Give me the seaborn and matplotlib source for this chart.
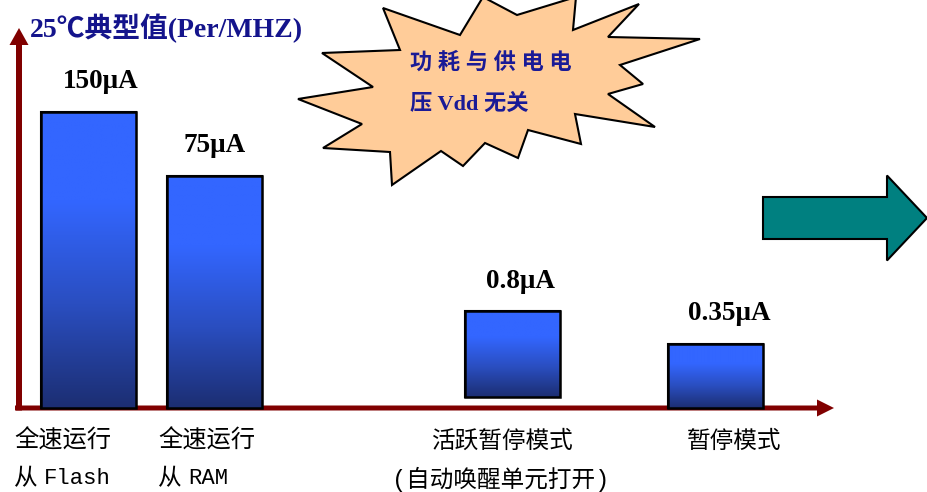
# Low power modes slide: supply current per mode (bars not drawn to scale on the original)

import numpy as np
import pandas as pd
import matplotlib
matplotlib.use('Agg')
import matplotlib.pyplot as plt
from matplotlib.patches import Polygon, Rectangle, FancyArrow
from matplotlib.colors import LinearSegmentedColormap
import seaborn as sns


# values
current_labels = ['150μA', '75μA', '0.8μA', '0.35μA']
bar_heights = [296, 232, 86, 64]     # drawn heights in px, the slide is not to scale
bar_bottoms = [0, 0, 11, 0]          # the active-halt bar floats a little above the axis
cat_line1 = ['全速运行', '全速运行', '活跃暂停模式', '暂停模式']
cat_line2 = ['从 Flash', '从 RAM', '(自动唤醒单元打开)', '']
title_text = '25℃典型值(Per/MHZ)'
burst_lines = ['功 耗 与 供 电 电', '压 Vdd 无关']


# layout, all in pixels of the 928x492 picture
slot_x = [89, 214.5, 513, 715.5]
label_dx = [12, 0, 8, 14]
cat1_pos = [(14, 'left'), (158, 'left'), (503, 'center'), (734, 'center')]
cat2_pos = [(14, 'left'), (158, 'left'), (501, 'center'), (0, 'left')]
BASE = 408   # pixel row of the x axis


def Y(py):
    # pixel row -> data y
    return BASE - py


sns.set_style('white')
plt.rcParams['font.family'] = ['Liberation Serif', 'Noto Sans CJK SC', 'DejaVu Sans']

df = pd.DataFrame({'slot': slot_x, 'height': bar_heights})

fig = plt.figure(figsize=(9.28, 4.92), dpi=100)
ax = fig.add_axes([0, 0, 1, 1])

sns.barplot(data=df, x='slot', y='height', native_scale=True, width=95 / 125.5,
            color='#1e3278', edgecolor='black', linewidth=1.5, errorbar=None,
            bottom=bar_bottoms, ax=ax, zorder=3)
bars = list(ax.patches)

# blue gradient inside every bar, bright on top, navy at the bottom
cmap = LinearSegmentedColormap.from_list(
    'bar', [(0, '#3366ff'), (0.3, '#3366ff'), (0.65, '#2a4ec0'), (1, '#1c2e72')])
grad = np.linspace(0, 1, 256).reshape(-1, 1)
for p in bars:
    x0, y0, w, h = p.get_x(), p.get_y(), p.get_width(), p.get_height()
    im = ax.imshow(grad, cmap=cmap, extent=(x0, x0 + w, y0, y0 + h),
                   origin='upper', aspect='auto', zorder=3.5, interpolation='bilinear')
    im.set_clip_path(p)
    ax.add_patch(Rectangle((x0, y0), w, h, fill=False, ec='black', lw=1.8, zorder=4))

# value labels above the bars
for p, lab, dx in zip(bars, current_labels, label_dx):
    ax.text(p.get_x() + p.get_width() / 2 + dx, p.get_y() + p.get_height() + 30, lab,
            ha='center', va='center', fontsize=19.5, fontweight='bold', color='black',
            family='Liberation Serif', zorder=5)

# axes drawn as dark red arrows
ax.add_patch(FancyArrow(15, 0, 834 - 15, 0, width=5, head_width=17, head_length=17,
                        length_includes_head=True, color='#800000', lw=0, zorder=2))
ax.add_patch(FancyArrow(19, -2.5, 0, Y(28) + 2.5, width=6, head_width=19, head_length=17,
                        length_includes_head=True, color='#800000', lw=0, zorder=2))

ax.text(30, Y(28), title_text, ha='left', va='center', fontsize=20, fontweight='bold',
        color='#14148c', family=['Liberation Serif', 'Noto Sans CJK SC'])

# category labels under the axis
cjk = ['Noto Sans CJK SC']
for txt, (x, ha) in zip(cat_line1, cat1_pos):
    ax.text(x, Y(441), txt, ha=ha, va='center', fontsize=17.5 if ha == 'left' else 17,
            color='black', family=cjk)
for txt, (x, ha) in zip(cat_line2, cat2_pos):
    if not txt:
        continue
    if ha == 'left':
        # chinese prefix, then the latin word in monospace
        head, tail = txt.split(' ', 1)
        ax.text(x, Y(479), head, ha='left', va='center', fontsize=17, color='black', family=cjk)
        ax.text(x + 30, Y(479), tail, ha='left', va='center', fontsize=16, color='black',
                family='Liberation Mono')
    else:
        ax.text(x, Y(479), txt, ha=ha, va='center', fontsize=17, color='black',
                family=['Liberation Mono', 'Noto Sans CJK SC'])

# starburst callout
burst_px = [(298, 99), (373, 87), (322, 53), (400, 50), (383, 8), (460, 35), (483, -3),
            (517, 15), (576, -3), (573, 30), (639, 4), (608, 37), (700, 39), (620, 65),
            (643, 84), (608, 94), (655, 127), (575, 114), (581, 144), (528, 130),
            (518, 158), (485, 143), (463, 166), (441, 151), (392, 185), (390, 152),
            (323, 148), (362, 124)]
ax.add_patch(Polygon([(x, Y(y)) for x, y in burst_px], closed=True, fc='#ffcc99',
                     ec='black', lw=1.5, zorder=2))
ax.text(410, Y(63), burst_lines[0], ha='left', va='center', fontsize=16, fontweight='bold',
        color='#1a1a96', family=['Liberation Serif', 'Noto Sans CJK SC'], zorder=3)
ax.text(410, Y(104), burst_lines[1], ha='left', va='center', fontsize=16, fontweight='bold',
        color='#1a1a96', family=['Liberation Serif', 'Noto Sans CJK SC'], zorder=3)

# teal arrow on the right
ax.add_patch(FancyArrow(763, Y(218), 927 - 763, 0, width=42, head_width=85, head_length=40,
                        length_includes_head=True, fc='#008080', ec='black', lw=1.5, zorder=2))

ax.set_xlim(0, 928)
ax.set_ylim(Y(492), Y(0))
ax.axis('off')

fig.savefig('out.png', dpi=100)
